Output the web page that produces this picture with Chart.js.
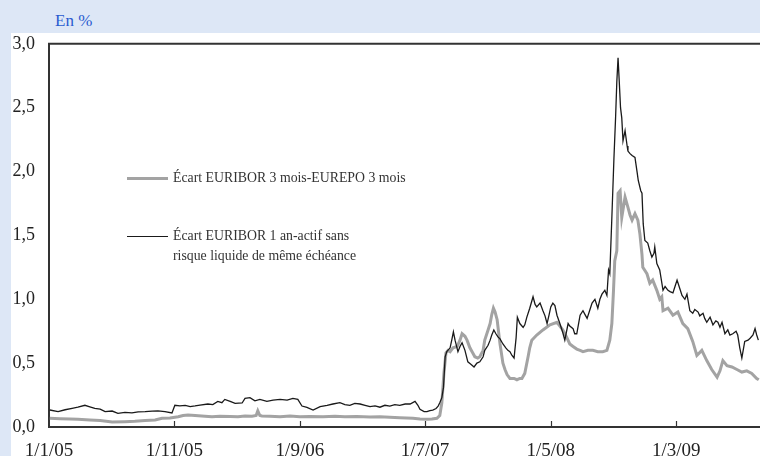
<!DOCTYPE html>
<html>
<head>
<meta charset="utf-8">
<script src="https://cdn.jsdelivr.net/npm/chart.js@4.4.1/dist/chart.umd.min.js"></script>
<style>
  body { margin: 0; width: 760px; height: 456px; overflow: hidden; background: #dde7f6; position: relative; font-family: "Liberation Serif", serif; }
  #unit { position: absolute; left: 55px; top: 11px; font-size: 17px; color: #2a5bd0; }
  #panel { position: absolute; left: 11px; top: 33px; width: 749px; height: 423px; background: #fff; }
  #myChart { position: absolute; left: 11px; top: 19px; }
  .leg { position: absolute; left: 127px; font-size: 13.8px; color: #333; line-height: 20px; }
  .leg .mark { position: absolute; left: 0; width: 41px; }
  .leg .txt { position: absolute; left: 46px; white-space: nowrap; }
</style>
</head>
<body>
<div id="unit">En %</div>
<div id="panel"></div>
<canvas id="myChart" width="749" height="437"></canvas>
<div class="leg" style="top:168px">
  <div class="mark" style="top:9px;height:3px;background:#a3a3a3"></div>
  <div class="txt">Écart EURIBOR 3 mois-EUREPO 3 mois</div>
</div>
<div class="leg" style="top:226px">
  <div class="mark" style="top:10px;height:1.3px;background:#1a1a1a"></div>
  <div class="txt">Écart EURIBOR 1 an-actif sans<br>risque liquide de même échéance</div>
</div>
<script>
// jours depuis le 1/1/05
const tickDays = [0, 304, 608, 911, 1216, 1520];
const tickLabels = ["1/1/05", "1/11/05", "1/9/06", "1/7/07", "1/5/08", "1/3/09"];
const yTicks = [0, 0.5, 1, 1.5, 2, 2.5, 3];

// Écart EURIBOR 1 an-actif sans risque liquide de même échéance
const oneYearDays = [2, 22, 39, 56, 70, 87, 99, 111, 124, 136, 153, 167, 184, 201, 216, 233, 250, 264, 281, 298,
  305, 317, 330, 342, 354, 366, 385, 397, 409, 419, 426, 439, 451, 468, 475, 487, 499, 511, 528, 543,
  560, 577, 591, 603, 613, 625, 640, 657, 674, 688, 705, 717, 729, 741, 754, 766, 778, 790, 802, 814,
  826, 838, 850, 863, 875, 887, 894, 899, 909, 916, 923, 930, 938, 943, 947, 952, 956, 960, 964, 972,
  976, 980, 984, 991, 996, 1001, 1008, 1015, 1023, 1030, 1037, 1044, 1052, 1056, 1064, 1069, 1073, 1078, 1083, 1088,
  1093, 1100, 1107, 1112, 1117, 1122, 1127, 1132, 1135, 1141, 1149, 1153, 1158, 1165, 1173, 1178, 1182, 1190, 1197, 1202,
  1207, 1212, 1216, 1221, 1226, 1231, 1238, 1245, 1250, 1258, 1262, 1270, 1274, 1279, 1287, 1294, 1299, 1304, 1311, 1316,
  1323, 1330, 1335, 1340, 1347, 1352, 1356, 1359, 1364, 1369, 1373, 1376, 1379, 1382, 1385, 1388, 1391, 1396, 1401, 1403,
  1408, 1413, 1420, 1425, 1428, 1434, 1437, 1440, 1444, 1451, 1456, 1461, 1466, 1468, 1473, 1480, 1488, 1493, 1500, 1505,
  1512, 1517, 1522, 1529, 1534, 1541, 1546, 1553, 1560, 1565, 1573, 1577, 1585, 1589, 1594, 1602, 1609, 1616, 1621, 1626,
  1631, 1638, 1645, 1650, 1657, 1665, 1669, 1674, 1679, 1686, 1694, 1699, 1706, 1711, 1715, 1719];
const oneYearValues = [0.133, 0.12, 0.135, 0.146, 0.155, 0.17, 0.158, 0.146, 0.14, 0.12, 0.125, 0.107, 0.115, 0.11, 0.118, 0.12, 0.125, 0.127, 0.12, 0.11,
  0.17, 0.165, 0.17, 0.16, 0.165, 0.172, 0.18, 0.175, 0.2, 0.19, 0.216, 0.2, 0.185, 0.188, 0.224, 0.23, 0.205, 0.216, 0.2, 0.21,
  0.216, 0.21, 0.224, 0.216, 0.164, 0.154, 0.133, 0.16, 0.17, 0.18, 0.19, 0.175, 0.17, 0.185, 0.18, 0.17, 0.16, 0.165, 0.155, 0.17,
  0.164, 0.175, 0.17, 0.18, 0.18, 0.2, 0.17, 0.138, 0.12, 0.12, 0.128, 0.133, 0.145, 0.164, 0.19, 0.23, 0.31, 0.55, 0.59, 0.62,
  0.68, 0.745, 0.68, 0.59, 0.63, 0.66, 0.6, 0.51, 0.49, 0.47, 0.5, 0.51, 0.55, 0.6, 0.64, 0.68, 0.72, 0.76, 0.73, 0.705,
  0.69, 0.65, 0.62, 0.6, 0.59, 0.56, 0.54, 0.7, 0.86, 0.81, 0.78, 0.8, 0.86, 0.93, 1.02, 0.96, 0.94, 0.97, 0.91, 0.87,
  0.81, 0.88, 0.94, 0.97, 0.95, 0.875, 0.81, 0.74, 0.68, 0.81, 0.79, 0.77, 0.73, 0.73, 0.875, 0.91, 0.88, 0.85, 0.92, 0.97,
  1.0, 0.93, 1.0, 1.04, 1.07, 1.03, 1.23, 1.2, 1.64, 2.1, 2.42, 2.7, 2.89, 2.7, 2.5, 2.42, 2.24, 2.32, 2.2, 2.16,
  2.14, 2.125, 2.11, 2.0, 1.93, 1.85, 1.83, 1.59, 1.46, 1.44, 1.38, 1.33, 1.36, 1.41, 1.28, 1.23, 1.07, 1.1, 1.07, 1.06,
  1.05, 1.1, 1.15, 1.08, 1.03, 1.0, 1.04, 0.91, 0.89, 0.92, 0.9, 0.87, 0.89, 0.85, 0.82, 0.86, 0.8, 0.83, 0.82, 0.78,
  0.82, 0.73, 0.76, 0.72, 0.73, 0.75, 0.72, 0.62, 0.54, 0.67, 0.68, 0.695, 0.72, 0.77, 0.72, 0.68];

// Écart EURIBOR 3 mois-EUREPO 3 mois
const threeMonthDays = [2, 27, 51, 70, 99, 124, 153, 184, 208, 233, 257, 274, 293, 313, 325, 337, 354, 378, 395, 414,
  439, 458, 475, 492, 502, 506, 511, 516, 535, 560, 584, 608, 632, 664, 693, 717, 746, 778, 802, 826,
  850, 882, 899, 916, 928, 940, 947, 952, 957, 962, 967, 972, 979, 989, 996, 1001, 1008, 1013, 1020, 1027,
  1032, 1039, 1044, 1052, 1056, 1064, 1069, 1073, 1077, 1081, 1086, 1093, 1100, 1105, 1110, 1117, 1127, 1134, 1141, 1146,
  1153, 1161, 1165, 1170, 1182, 1197, 1214, 1231, 1238, 1245, 1255, 1262, 1270, 1279, 1287, 1294, 1306, 1318, 1330, 1342,
  1352, 1359, 1364, 1368, 1371, 1376, 1379, 1384, 1388, 1396, 1403, 1408, 1413, 1420, 1427, 1432, 1437, 1439, 1449, 1456,
  1463, 1473, 1480, 1485, 1488, 1500, 1512, 1524, 1536, 1548, 1560, 1570, 1582, 1594, 1606, 1619, 1626, 1633, 1643, 1655,
  1667, 1679, 1691, 1703, 1715, 1720];
const threeMonthValues = [0.068, 0.065, 0.062, 0.06, 0.055, 0.05, 0.04, 0.042, 0.045, 0.05, 0.055, 0.068, 0.07, 0.08, 0.09, 0.094, 0.09, 0.085, 0.08, 0.085,
  0.082, 0.08, 0.086, 0.085, 0.09, 0.127, 0.09, 0.086, 0.085, 0.08, 0.086, 0.08, 0.082, 0.08, 0.085, 0.08, 0.082, 0.078, 0.08, 0.076,
  0.072, 0.068, 0.062, 0.06, 0.062, 0.068, 0.09, 0.19, 0.42, 0.58, 0.6, 0.59, 0.62, 0.63, 0.68, 0.73, 0.71, 0.68, 0.62, 0.58,
  0.55, 0.54, 0.55, 0.6, 0.68, 0.76, 0.81, 0.88, 0.93, 0.9, 0.84, 0.65, 0.5, 0.45, 0.41, 0.38, 0.38, 0.37, 0.38, 0.38,
  0.42, 0.55, 0.62, 0.68, 0.72, 0.76, 0.8, 0.82, 0.79, 0.76, 0.7, 0.65, 0.63, 0.61, 0.6, 0.59, 0.6, 0.6, 0.59, 0.59,
  0.6, 0.68, 0.81, 1.07, 1.3, 1.38, 1.83, 1.85, 1.64, 1.8, 1.72, 1.66, 1.62, 1.67, 1.62, 1.51, 1.35, 1.25, 1.2, 1.125,
  1.15, 1.07, 1.0, 1.02, 0.91, 0.93, 0.875, 0.9, 0.81, 0.77, 0.67, 0.56, 0.6, 0.52, 0.45, 0.39, 0.44, 0.52, 0.48, 0.47,
  0.45, 0.43, 0.44, 0.42, 0.38, 0.37];

const toPoints = (days, values) => days.map((d, i) => ({ x: d, y: values[i] }));

// cadre du haut + petites graduations vers l'intérieur
const framePlugin = {
  id: "frame",
  afterDraw(chart) {
    const { ctx, chartArea, scales } = chart;
    ctx.save();
    ctx.strokeStyle = "#333";
    ctx.lineWidth = 2;
    ctx.beginPath();
    ctx.moveTo(chartArea.left - 1, chartArea.top);
    ctx.lineTo(chartArea.right, chartArea.top);
    ctx.stroke();
    ctx.lineWidth = 1.2;
    tickDays.slice(1).forEach((d) => {
      const px = Math.round(scales.x.getPixelForValue(d)) + 0.5;
      ctx.beginPath();
      ctx.moveTo(px, chartArea.bottom);
      ctx.lineTo(px, chartArea.bottom - 6);
      ctx.stroke();
    });
    ctx.restore();
  }
};

const font = { family: "'Liberation Serif', serif", size: 18 };

const ctx = document.getElementById("myChart").getContext("2d");
const myChart = new Chart(ctx, {
  type: "line",
  data: {
    datasets: [
      {
        label: "Écart EURIBOR 1 an-actif sans risque liquide de même échéance",
        data: toPoints(oneYearDays, oneYearValues),
        borderColor: "#1a1a1a",
        borderWidth: 1.3,
        pointRadius: 0,
        order: 1
      },
      {
        label: "Écart EURIBOR 3 mois-EUREPO 3 mois",
        data: toPoints(threeMonthDays, threeMonthValues),
        borderColor: "#a3a3a3",
        borderWidth: 3,
        pointRadius: 0,
        order: 2
      }
    ]
  },
  options: {
    responsive: false,
    animation: false,
    devicePixelRatio: 1,
    layout: { padding: { top: 10, right: 0, left: 0, bottom: 0 } },
    plugins: { legend: { display: false }, tooltip: { enabled: false } },
    scales: {
      x: {
        type: "linear",
        min: 0,
        max: 1723,
        afterBuildTicks: (scale) => { scale.ticks = tickDays.map((v) => ({ value: v })); },
        afterFit: (scale) => { scale.height = 29; },
        ticks: {
          font: { family: "'Liberation Serif', serif", size: 19 },
          color: "#222",
          padding: 13,
          maxRotation: 0,
          autoSkip: false,
          callback: (v) => tickLabels[tickDays.indexOf(v)]
        },
        grid: { display: false, drawTicks: false },
        border: { display: true, color: "#333", width: 2 }
      },
      y: {
        min: 0,
        max: 3,
        afterBuildTicks: (scale) => { scale.ticks = yTicks.map((v) => ({ value: v })); },
        afterFit: (scale) => { scale.width = 38; },
        ticks: {
          font: font,
          color: "#222",
          padding: 14,
          callback: (v) => v.toFixed(1).replace(".", ",")
        },
        grid: { display: false, drawTicks: false },
        border: { display: true, color: "#333", width: 2 }
      }
    }
  },
  plugins: [framePlugin]
});
</script>
</body>
</html>
